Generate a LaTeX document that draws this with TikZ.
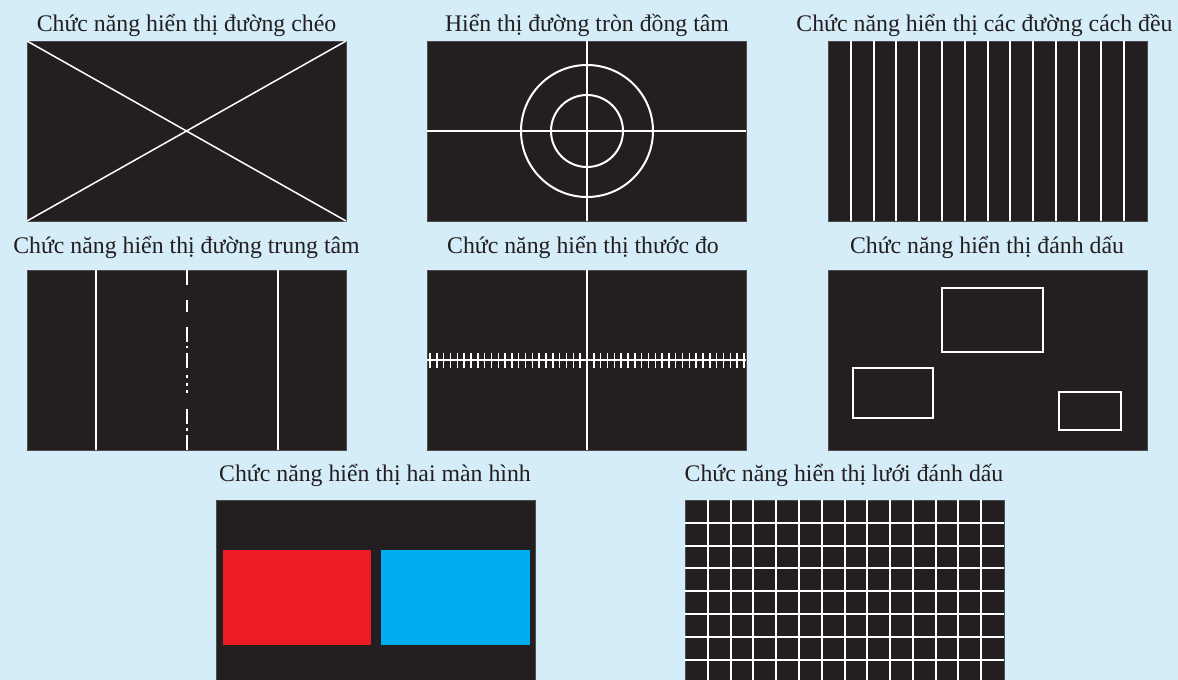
\documentclass[tikz,border=0pt]{standalone}
\usepackage{fontspec}
\setmainfont{Liberation Serif}
\definecolor{bg}{HTML}{D5ECF9}
\definecolor{scr}{HTML}{231F20}
\definecolor{txt}{HTML}{231F20}
\definecolor{redscr}{HTML}{ED1C24}
\definecolor{bluescr}{HTML}{00AEEF}
\begin{document}
\begin{tikzpicture}[x=1pt,y=-1pt,
  panel/.style={fill=scr,draw=scr!80!white,line width=0.6pt},
  wl/.style={draw=white,line width=2pt},
  wt/.style={draw=white,line width=1.5pt},
  title/.style={font=\fontsize{23.8}{26}\selectfont,text=txt,anchor=base,inner sep=0pt}]
\fill[bg] (0,0) rectangle (1178,680);
\useasboundingbox (0,0) rectangle (1178,680);
% titles
\node[title] (t1) at (186.5,31) {Chức năng hiển thị đường chéo};
\node[title] (t2) at (587,31) {Hiển thị đường tròn đồng tâm};
\node[title] (t3) at (984.5,31) {Chức năng hiển thị các đường cách đều};
\node[title] (t4) at (186.5,253) {Chức năng hiển thị đường trung tâm};
\node[title] (t5) at (583,253) {Chức năng hiển thị thước đo};
\node[title] (t6) at (987,253) {Chức năng hiển thị đánh dấu};
\node[title] (t7) at (375,481) {Chức năng hiển thị hai màn hình};
\node[title] (t8) at (844,481) {Chức năng hiển thị lưới đánh dấu};
% panel 1: diagonals
\fill[panel] (27,41) rectangle (346,221);
\draw[wt] (27,41) -- (346,221) (27,221) -- (346,41);
% panel 2: concentric circles
\fill[panel] (427,41) rectangle (746,221);
\draw[wl] (427,131) -- (746,131) (587,41) -- (587,221);
\draw[wl] (587,131) circle[radius=66];
\draw[wl] (587,131) circle[radius=36];
% panel 3: equidistant lines
\fill[panel] (828,41) rectangle (1147,221);
\foreach \i in {1,...,13} {
  \draw[wl] ({828+\i*319/14},41) -- ({828+\i*319/14},221);
}
% panel 4: centre lines
\fill[panel] (27,270) rectangle (346,450);
\draw[wl] (95.5,270) -- (95.5,450) (277.5,270) -- (277.5,450);
\foreach \a/\b in {270/285,300/311.7,326.7/341.7,345.7/348.3,352.7/367.7,375/378.3,382.7/386,390/393.3,409/424,427.7/431,435/450} {
  \draw[wl] (186.7,\a) -- (186.7,\b);
}
% panel 5: ruler
\fill[panel] (427,270) rectangle (746,450);
\draw[wl] (587,270) -- (587,450) (427,360) -- (746,360);
\foreach \i in {0,...,46} {
  \draw[draw=white,line width=1.5pt] ({430+\i*314/46},352.5) -- ({430+\i*314/46},368);
}
% panel 6: markers
\fill[panel] (828,270) rectangle (1147,450);
\draw[wl] (941.5,288) rectangle (1043,351.5);
\draw[wl] (852.5,367.5) rectangle (932.5,418);
\draw[wl] (1059,391.5) rectangle (1120.5,430);
% panel 7: dual screen
\fill[panel] (216.5,500) rectangle (535.5,690);
\fill[redscr] (222.7,550.3) rectangle (371.3,644.7);
\fill[bluescr] (381,550.3) rectangle (529.7,644.7);
% panel 8: grid
\fill[panel] (685,500) rectangle (1004,690);
\foreach \i in {1,...,13} {
  \draw[wl] ({685+\i*319/14},500) -- ({685+\i*319/14},690);
}
\foreach \j in {1,...,8} {
  \draw[wl] (685,{500+\j*22.8}) -- (1004,{500+\j*22.8});
}
\end{tikzpicture}
\end{document}
